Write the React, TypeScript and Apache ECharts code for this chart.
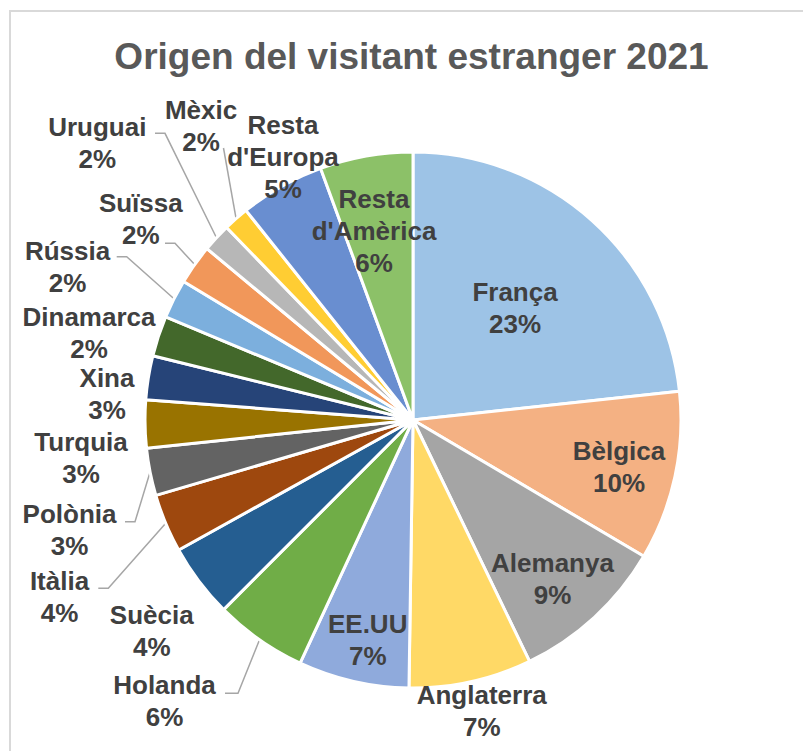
import React, { useEffect, useRef } from "react";
import * as echarts from "echarts";

// ---- Data ----
const TITLE = "Origen del visitant estranger 2021";
const categories = [
  "França", "Bèlgica", "Alemanya", "Anglaterra", "EE.UU", "Holanda", "Suècia", "Itàlia",
  "Polònia", "Turquia", "Xina", "Dinamarca", "Rússia", "Suïssa", "Uruguai", "Mèxic",
  "Resta d'Europa", "Resta d'Amèrica",
];
const shares = [
  23.29, 10.2, 9.35, 7.4, 6.68, 5.57, 4.45, 3.52,
  2.86, 2.89, 2.64, 2.44, 2.36, 2.39, 1.72, 1.53,
  5.11, 5.6,
];

// ---- Styles / layout ----
const colors = [
  "#9DC3E6", "#F4B183", "#A5A5A5", "#FFD966", "#8FAADC", "#70AD47", "#255E91", "#9E480E",
  "#636363", "#997300", "#264478", "#43682B", "#7CAFDD", "#F1975A", "#B7B7B7", "#FFCD33",
  "#698ED0", "#8CC168",
];
// label block centres (Excel "best fit" placement)
const labelCenters: [number, number][] = [
  [515, 308], [619, 467], [552.5, 579], [481.7, 711], [367.7, 640], [164.5, 701],
  [151.7, 631], [59.5, 596.7], [69.5, 530], [81, 458], [107, 394], [89, 332.5],
  [67.5, 266.6], [140.8, 219], [97.3, 143], [201, 125.8], [283, 156.7], [374, 230.7],
];
// leader line points after the slice anchor (elbow, end)
const leaderLines: Record<number, [number, number][]> = {
  5: [[238, 693.3], [225, 693.3]],
  7: [[108.3, 588.3], [98.3, 588.3]],
  8: [[135, 521.7], [125, 521.7]],
  12: [[126.7, 256.7], [116.7, 256.7]],
  13: [[175, 243.3], [165, 243.3]],
  14: [[165, 133.3], [155, 133.3]],
  15: [[223.5, 148]],
};

const FONT = "'Liberation Sans', Arial, Helvetica, sans-serif";

export default function App() {
  const ref = useRef<HTMLDivElement>(null);
  useEffect(() => {
    const chart = echarts.init(ref.current!, null, { renderer: "svg" });
    const data = categories.map((name, i) => ({
      name,
      value: shares[i],
      itemStyle: { color: colors[i] },
      labelLine: { show: !!leaderLines[i] },
    }));
    chart.setOption({
      animation: false,
      backgroundColor: "#ffffff",
      graphic: [
        {
          type: "rect",
          shape: { x: 10, y: 11, width: 900, height: 900 },
          style: { fill: "none", stroke: "#D9D9D9", lineWidth: 2 },
          silent: true,
        },
        {
          type: "text",
          x: 411.5,
          y: 56,
          style: {
            text: TITLE,
            fill: "#595959",
            font: `bold 37px ${FONT}`,
            align: "center",
            verticalAlign: "middle",
          },
        },
      ],
      series: [
        {
          type: "pie",
          center: [413, 420],
          radius: 268,
          startAngle: 90,
          clockwise: true,
          avoidLabelOverlap: false,
          itemStyle: { borderColor: "#ffffff", borderWidth: 3 },
          label: {
            show: true,
            position: "outside",
            color: "#404040",
            fontFamily: FONT,
            fontWeight: "bold",
            fontSize: 26,
            lineHeight: 32,
            formatter: (p: any) =>
              `${String(p.name).replace(" ", "\n")}\n${Math.round(p.percent)}%`,
          },
          labelLine: {
            lineStyle: { color: "#A6A6A6", width: 1.5 },
          },
          labelLayout: (params: any) => {
            const i = params.dataIndex;
            const [x, y] = labelCenters[i];
            const res: any = { x, y, align: "center", verticalAlign: "middle" };
            const extra = leaderLines[i];
            if (extra && params.labelLinePoints) {
              res.labelLinePoints = [params.labelLinePoints[0], ...extra];
            }
            return res;
          },
          emphasis: { disabled: true },
          data,
        },
      ],
    });
    return () => chart.dispose();
  }, []);
  return (
    <div
      ref={ref}
      style={{ position: "fixed", left: 0, top: 0, width: 803, height: 751, background: "#fff" }}
    />
  );
}
